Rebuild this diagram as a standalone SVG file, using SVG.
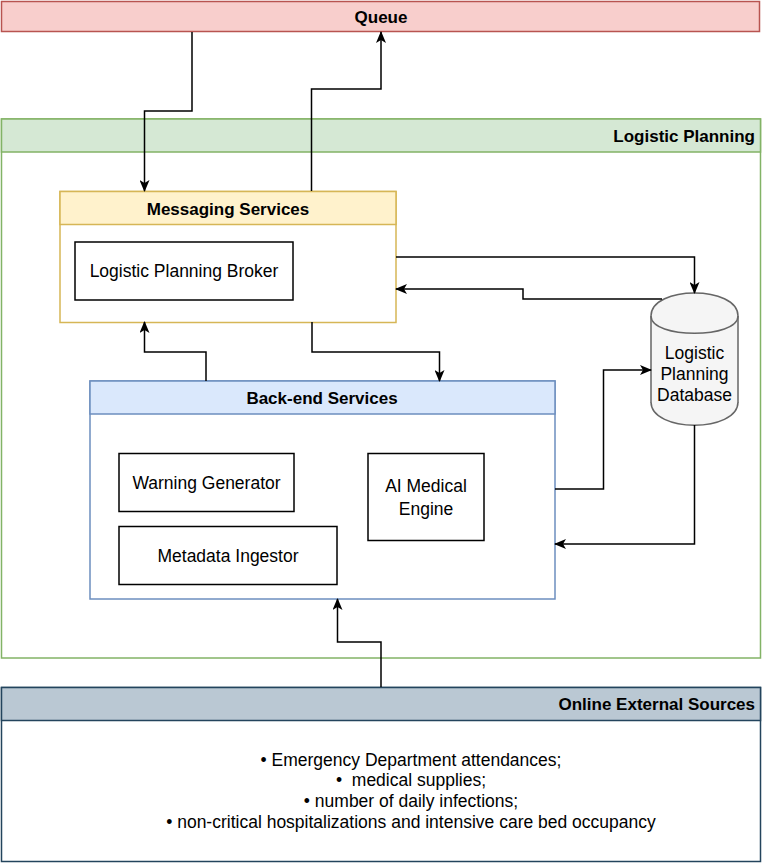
<svg xmlns="http://www.w3.org/2000/svg" width="762" height="863" viewBox="0 0 762 863">
<defs>
<style>
text{font-family:"Liberation Sans",Arial,sans-serif;font-size:17.5px;fill:#000}
.b{font-weight:bold;font-size:17px}
.m{text-anchor:middle}
.e{text-anchor:end}
.box{fill:#fff;stroke:#000;stroke-width:1.5}
.c{fill:none;stroke:#000;stroke-width:1.5}
</style>
<marker id="ar" viewBox="0 0 12 10" refX="11" refY="5" markerWidth="12" markerHeight="10" markerUnits="userSpaceOnUse" orient="auto">
<path d="M0,0 L12,5 L0,10 L3,5 Z" fill="#000"/>
</marker>
</defs>
<rect width="762" height="863" fill="#fff"/>

<g id="queue">
<rect x="1.5" y="1.5" width="758" height="30" fill="#f8cecc" stroke="#b85450" stroke-width="1.5"/>
<text class="b m" x="381" y="23">Queue</text>
</g>

<g id="logistic-planning">
<rect x="1.5" y="119" width="759" height="539" fill="#fff" stroke="#82b366" stroke-width="1.5"/>
<rect x="1.5" y="119" width="759" height="33" fill="#d5e8d4" stroke="#82b366" stroke-width="1.5"/>
<text class="b e" x="755" y="142">Logistic Planning</text>
</g>

<g id="messaging-services">
<rect x="60" y="191.5" width="336" height="131" fill="#fff" stroke="#d6b656" stroke-width="1.5"/>
<rect x="60" y="191.5" width="336" height="33" fill="#fff2cc" stroke="#d6b656" stroke-width="1.5"/>
<text class="b m" x="228" y="215">Messaging Services</text>
</g>

<g id="logistic-planning-broker">
<rect class="box" x="75" y="242" width="218" height="58"/>
<text class="m" x="184" y="277">Logistic Planning Broker</text>
</g>

<g id="back-end-services">
<rect x="90" y="381" width="465" height="218" fill="#fff" stroke="#6c8ebf" stroke-width="1.5"/>
<rect x="90" y="381" width="465" height="33" fill="#dae8fc" stroke="#6c8ebf" stroke-width="1.5"/>
<text class="b m" x="322" y="404">Back-end Services</text>
</g>

<g id="warning-generator">
<rect class="box" x="119" y="453.5" width="175" height="58"/>
<text class="m" x="206.5" y="488.5">Warning Generator</text>
</g>

<g id="metadata-ingestor">
<rect class="box" x="119" y="526.5" width="218" height="58"/>
<text class="m" x="228" y="561.5">Metadata Ingestor</text>
</g>

<g id="ai-medical-engine">
<rect class="box" x="368" y="453.5" width="116" height="87"/>
<text class="m" x="426" y="492">AI Medical</text>
<text class="m" x="426" y="515">Engine</text>
</g>

<g id="logistic-planning-database">
<path d="M651,316 C651,285.3 738,285.3 738,316 L738,402 C738,409.7 651,409.7 651,402 Z" fill="#f5f5f5" stroke="#666" stroke-width="1.5"/>
<path d="M651,402 C651,433 738,433 738,402" fill="#f5f5f5" stroke="#666" stroke-width="1.5"/>
<path d="M651,316 C651,339 738,339 738,316" fill="none" stroke="#666" stroke-width="1.5"/>
<text class="m" x="694.5" y="359">Logistic</text>
<text class="m" x="694.5" y="380">Planning</text>
<text class="m" x="694.5" y="401">Database</text>
</g>

<g id="online-external-sources">
<rect x="1.5" y="687.5" width="759" height="174" fill="#fff" stroke="#23445d" stroke-width="1.5"/>
<rect x="1.5" y="687.5" width="759" height="33" fill="#bac8d3" stroke="#23445d" stroke-width="1.5"/>
<text class="b e" x="755" y="710">Online External Sources</text>
<text class="m" x="411" y="766">• Emergency Department attendances;</text>
<text class="m" x="411" y="786">•&#160; medical supplies;</text>
<text class="m" x="411" y="807">• number of daily infections;</text>
<text class="m" x="411" y="828">• non-critical hospitalizations and intensive care bed occupancy</text>
</g>

<g id="connectors">
<path class="c" marker-end="url(#ar)" d="M192,32 V111 H144.5 V191"/>
<path class="c" marker-end="url(#ar)" d="M311.5,191 V89 H381 V32"/>
<path class="c" marker-end="url(#ar)" d="M396,257 H694.5 V293"/>
<path class="c" marker-end="url(#ar)" d="M662,299 H523 V289 H396"/>
<path class="c" marker-end="url(#ar)" d="M312,322 V352 H439.5 V381"/>
<path class="c" marker-end="url(#ar)" d="M206,381 V352 H144.5 V322"/>
<path class="c" marker-end="url(#ar)" d="M555,489 H603.5 V370 H651"/>
<path class="c" marker-end="url(#ar)" d="M694.5,425 V544 H555"/>
<path class="c" marker-end="url(#ar)" d="M381,687 V642 H337.5 V599"/>
</g>
</svg>
